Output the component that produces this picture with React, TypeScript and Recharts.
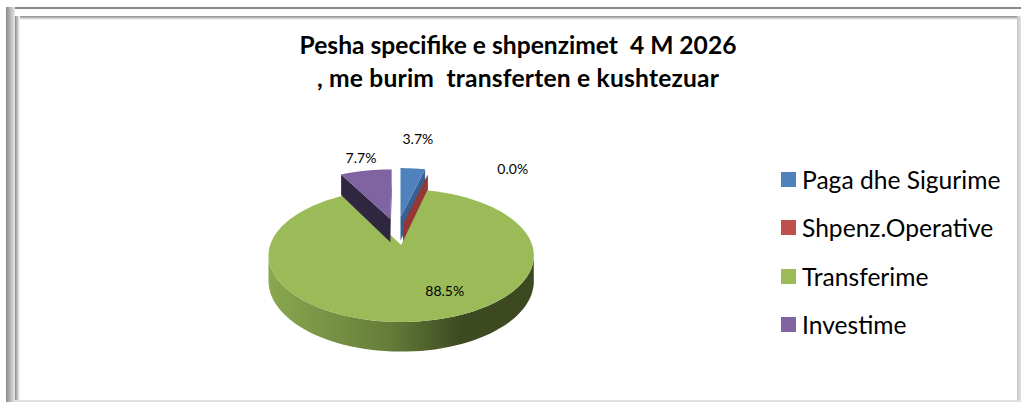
import { Legend, Pie, PieChart } from 'recharts'

const categories = ['Paga dhe Sigurime', 'Shpenz.Operative', 'Transferime', 'Investime']
const shares = [3.7, 0.0, 88.5, 7.7]
const colors = ['#4f81bd', '#c0504d', '#9bbb59', '#8064a2']
const wallColors = ['#376092', '#953735', 'url(#greenWall)', '#2f2640']
const titleLines = ['Pesha specifike e shpenzimet  4 M 2026', ', me burim  transferten e kushtezuar']

const tableData = categories.map((name, i) => ({ name, value: shares[i], fill: colors[i] }))

// fake 3d: pie plane seen in perspective
const TILT = 64.8
const PERSP = 0.158
const DEPTH = 25
// how far each slice is pulled out of the pie, in radius units
const explode = [[0, -0.46], [0.02, -0.33], [0.005, 0], [-0.082, -0.43]]
const labelNudge = [[5, -30], [85, -6], [24, -31], [-5, -13]]

function project(cx: number, cy: number, r: number, u: number, v: number, down = 0) {
  const w = 1 / (1 - PERSP * v)
  return [cx + r * u * w, cy + TILT * v * w + down * w]
}

function planePoint(angle: number, ex: number[]) {
  const rad = (angle * Math.PI) / 180
  return [Math.cos(rad) + ex[0], -Math.sin(rad) + ex[1]]
}

const toPath = (pts: number[][]) => 'M' + pts.map((p) => `${p[0].toFixed(1)} ${p[1].toFixed(1)}`).join('L') + 'Z'

function Slice3D(props: any) {
  const { cx, cy, outerRadius: r, startAngle, endAngle, name } = props
  const i = categories.indexOf(name)
  const ex = explode[i]
  const steps = 120
  const arc: number[][] = []
  for (let s = 0; s <= steps; s++) {
    const a = startAngle + ((endAngle - startAngle) * s) / steps
    arc.push(planePoint(a, ex))
  }
  const top = (p: number[]) => project(cx, cy, r, p[0], p[1])
  const low = (p: number[]) => project(cx, cy, r, p[0], p[1], DEPTH)
  const apex = ex
  const first = arc[0]
  const last = arc[arc.length - 1]
  const front = arc.filter((p) => p[1] - ex[1] >= 0.15)
  return (
    <g>
      <defs>
        <linearGradient id="greenWall" x1="0" y1="0" x2="1" y2="0">
          <stop offset="0" stopColor="#8aa84f" />
          <stop offset="0.45" stopColor="#667d3a" />
          <stop offset="0.72" stopColor="#3e4b22" />
          <stop offset="1" stopColor="#3c4820" />
        </linearGradient>
      </defs>
      {i !== 2 && (
        <>
          <path d={toPath([top(apex), top(last), low(last), low(apex)])} fill={wallColors[i]} />
          <path d={toPath([top(apex), top(first), low(first), low(apex)])} fill={wallColors[i]} />
        </>
      )}
      {front.length > 1 && (
        <path d={toPath([...front.map(top), ...[...front].reverse().map(low)])} fill={wallColors[i]} />
      )}
      {endAngle !== startAngle && <path d={toPath([top(apex), ...arc.map(top)])} fill={colors[i]} />}
    </g>
  )
}

function renderLabel(props: any) {
  const { cx, cy, outerRadius, midAngle, index } = props
  const p = planePoint(midAngle, explode[index])
  const [x, y] = project(cx, cy, outerRadius, p[0], p[1])
  return (
    <text x={x + labelNudge[index][0]} y={y + labelNudge[index][1]} fontFamily="Lato" fontSize={14} fill="#000" textAnchor="middle" dominantBaseline="central">
      {shares[index].toFixed(1)}%
    </text>
  )
}

function LegendBox({ payload }: any) {
  return (
    <div>
      {(payload || []).map((entry: any) => (
        <div key={entry.value} style={{ display: 'flex', alignItems: 'center', height: 48.5 }}>
          <span style={{ width: 15, height: 15, background: entry.color, marginRight: 6 }} />
          <span style={{ fontFamily: 'Lato', fontSize: 24.6, color: '#000', whiteSpace: 'nowrap' }}>{entry.value}</span>
        </div>
      ))}
    </div>
  )
}

const bar = (style: React.CSSProperties) => <div style={{ position: 'absolute', ...style }} />

export default function App() {
  return (
    <div style={{ position: 'absolute', left: 0, top: 0, width: 1021, height: 402, background: '#fff', overflow: 'hidden' }}>
      {bar({ left: 6, top: 7, width: 1015, height: 2, background: '#8a8a8a' })}
      {bar({ left: 6, top: 7, width: 9, height: 395, background: 'linear-gradient(to right,#8a8a8a,#e8e8e8)' })}
      {bar({ left: 15, top: 16, width: 1002, height: 4, background: 'linear-gradient(to bottom,#8a8a8a,#fff)' })}
      {bar({ left: 15, top: 16, width: 5, height: 386, background: 'linear-gradient(to right,#8a8a8a,#fff)' })}
      {bar({ left: 1017, top: 16, width: 4, height: 386, background: 'linear-gradient(to right,#c4c4c4,#e4e4e4)' })}
      {bar({ left: 15, top: 400, width: 1006, height: 2, background: '#e0e0e0' })}
      {titleLines.map((line, i) => (
        <div
          key={line}
          style={{
            position: 'absolute',
            left: 218,
            width: 600,
            top: i === 0 ? 29 : 62,
            textAlign: 'center',
            fontFamily: 'Lato',
            fontWeight: 700,
            fontSize: 24.6,
            letterSpacing: i === 0 ? 0 : 0.2,
            lineHeight: '32px',
            color: '#000',
            whiteSpace: 'pre',
          }}
        >
          {line}
        </div>
      ))}
      <div style={{ position: 'absolute', left: 0, top: 0 }}>
        <PieChart width={1021} height={402} margin={{ top: 0, right: 0, bottom: 0, left: 0 }}>
          <Pie
            data={tableData}
            dataKey="value"
            nameKey="name"
            cx={400.5}
            cy={245}
            outerRadius={131}
            startAngle={90}
            endAngle={-270}
            stroke="none"
            shape={Slice3D}
            label={renderLabel}
            labelLine={false}
            isAnimationActive={false}
          />
          <Legend itemSorter={null} content={LegendBox} wrapperStyle={{ left: 781, top: 155, width: 238, bottom: 'auto' }} />
        </PieChart>
      </div>
    </div>
  )
}
